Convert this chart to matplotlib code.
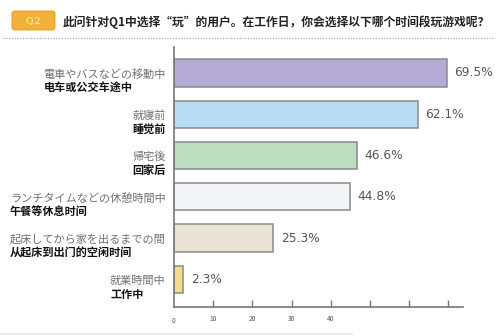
import matplotlib.pyplot as plt
from matplotlib.patches import FancyBboxPatch
from matplotlib.lines import Line2D

plt.rcParams['font.family'] = ['Noto Sans CJK SC', 'DejaVu Sans']

labels_jp = ['電車やバスなどの移動中', '就寝前', '帰宅後',
             'ランチタイムなどの休憩時間中', '起床してから家を出るまでの間', '就業時間中']
labels_cn = ['电车或公交车途中', '睡觉前', '回家后',
             '午餐等休息时间', '从起床到出门的空闲时间', '工作中']
values = [69.5, 62.1, 46.6, 44.8, 25.3, 2.3]
colors = ['#b4aad4', '#b8dcf4', '#bddcc0', '#f3f4f7', '#eae4d6', '#f3dc8c']
title = '此问针对Q1中选择“玩”的用户。在工作日，你会选择以下哪个时间段玩游戏呢？'

W, H = 500, 336
fig = plt.figure(figsize=(5, 3.36), dpi=100)
ax = fig.add_axes((174 / W, 1 - 307 / H, (463 - 174) / W, (307 - 47) / H))

ypos = list(range(len(values)))
ax.barh(ypos, values, height=0.66, color=colors, edgecolor='#8a8a8a', linewidth=1.1)
for y, v in zip(ypos, values):
    ax.text(v + 2.0, y, f'{v}%', va='center', ha='left', fontsize=8.8,
            color='#555555', family=['DejaVu Sans'])

ax.set_xlim(0, 73.7)
ax.set_ylim(5.67, -0.63)
ax.set_yticks([])
ax.set_xticks([10, 20, 30, 40, 50, 60, 70])
ax.set_xticklabels(['10', '20', '30', '40', '', '', ''])
ax.tick_params(axis='x', direction='in', length=5, width=1, color='#777777',
               labelsize=4.8, labelcolor='#555555', pad=6)
ax.text(0, 5.67 + 0.33, '0', ha='center', va='center', fontsize=4.8, color='#555555')
for s in ['top', 'right']:
    ax.spines[s].set_visible(False)
for s in ['left', 'bottom']:
    ax.spines[s].set_color('#777777')
    ax.spines[s].set_linewidth(1.2)

# category labels: Japanese line right-aligned, Chinese line left-aligned under it
for y, jp, cn in zip(ypos, labels_jp, labels_cn):
    t = ax.annotate(jp, xy=(0, y), xycoords=('axes fraction', 'data'),
                    xytext=(-6, -1), textcoords='offset points', ha='right', va='center',
                    fontsize=8, color='#707070', family=['Noto Sans CJK JP'])
    ax.annotate(cn, xy=(0, 0.5), xycoords=t, xytext=(0, -9.6),
                textcoords='offset points', ha='left', va='center',
                fontsize=8, color='#111111', fontweight='bold')

# header
badge = FancyBboxPatch((12 / W, 1 - 30 / H), 43 / W, 19 / H,
                       boxstyle='round,pad=0,rounding_size=0.006',
                       transform=fig.transFigure, facecolor='#f2b23a',
                       edgecolor='#e39a20', linewidth=0.6)
fig.patches.append(badge)
fig.text(33.5 / W, 1 - 21 / H, 'Q.2', ha='center', va='center', fontsize=6.5,
         color='#fff6dc', family=['DejaVu Serif'])
fig.text(63 / W, 1 - 22 / H, title, ha='left', va='center', fontsize=8.5,
         color='#222222', fontweight='bold')
fig.add_artist(Line2D([3 / W, 495 / W], [1 - 38 / H, 1 - 38 / H],
                      transform=fig.transFigure, color='#999999',
                      linestyle=(0, (1, 1.5)), linewidth=0.8))
fig.add_artist(Line2D([0, 352 / W], [1 - 334 / H, 1 - 334 / H],
                      transform=fig.transFigure, color='#e6e6e6', linewidth=1.2))

fig.savefig('out.png', dpi=100)
